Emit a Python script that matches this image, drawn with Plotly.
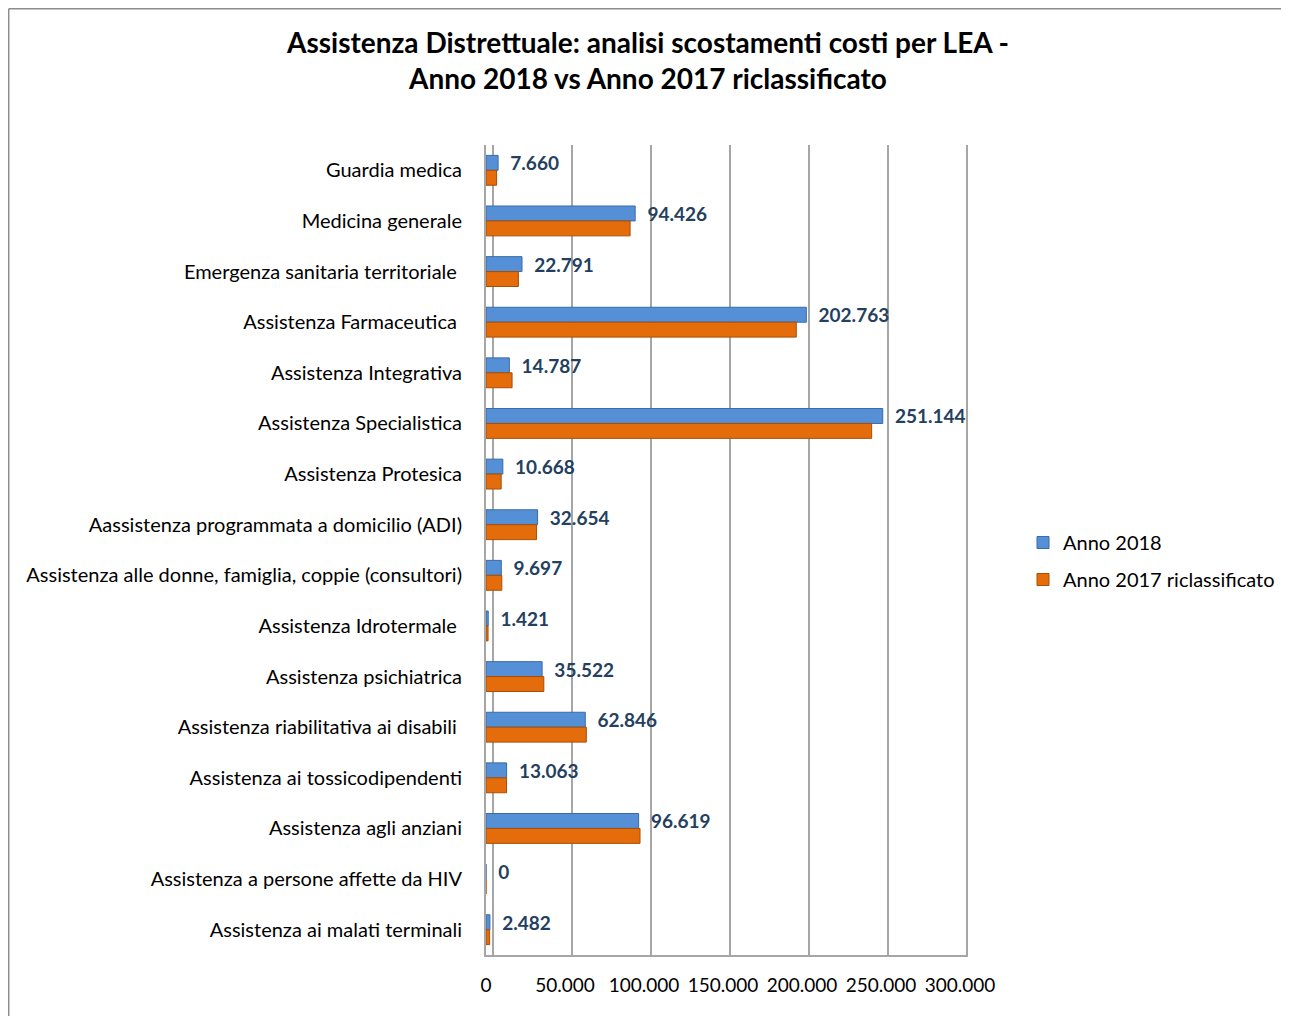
import plotly.graph_objects as go

categorie = [
    "Guardia medica",
    "Medicina generale",
    "Emergenza sanitaria territoriale ",
    "Assistenza Farmaceutica ",
    "Assistenza Integrativa",
    "Assistenza Specialistica",
    "Assistenza Protesica",
    "Aassistenza programmata a domicilio (ADI)",
    "Assistenza alle donne, famiglia, coppie (consultori)",
    "Assistenza Idrotermale ",
    "Assistenza psichiatrica",
    "Assistenza riabilitativa ai disabili ",
    "Assistenza ai tossicodipendenti",
    "Assistenza agli anziani",
    "Assistenza a persone affette da HIV",
    "Assistenza ai malati terminali",
]
anno_2018 = [7660, 94426, 22791, 202763, 14787, 251144, 10668, 32654,
             9697, 1421, 35522, 62846, 13063, 96619, 0, 2482]
anno_2017 = [6700, 91200, 20500, 196400, 16500, 244100, 9600, 32000,
             10000, 1300, 36600, 63500, 13000, 97500, 0, 2300]
tick_valori = [0, 50000, 100000, 150000, 200000, 250000, 300000]

FONT = "Lato"
blu = "#5590D6"
arancio = "#E46C0A"

# la pagina html ha un margine di 8px: il grafico e' un po' piu' piccolo
W, H = 1281, 1008
ml, mr, mt, mb = 478, 321, 137, 61
pw, ph = W - ml - mr, H - mt - mb

fig = go.Figure()
fig.add_trace(go.Bar(
    y=categorie, x=anno_2018, orientation="h", name="Anno 2018",
    marker=dict(color=blu, line=dict(color="#3A6BA8", width=1)),
    texttemplate="  %{x:,.0f}", textposition="outside", constraintext="none",
    textfont=dict(family=FONT, size=19, color="#243F60", weight="bold"),
    cliponaxis=False, legendgroup="a",
))
fig.add_trace(go.Bar(
    y=categorie, x=anno_2017, orientation="h", name="Anno 2017 riclassificato",
    marker=dict(color=arancio, line=dict(color="#A84E06", width=1)),
    legendgroup="b",
))
# griglia "sul fondo" (effetto 3D), leggermente spostata a destra
fig.add_trace(go.Scatter(x=[None], y=[None], xaxis="x2", showlegend=False))


def px_x(p):
    return (p - ml) / pw


def px_y(p):
    return (H - mb - p) / ph


fig.add_shape(type="line", xref="paper", yref="paper",
              x0=px_x(0.7), x1=px_x(0.7), y0=px_y(H), y1=px_y(0.7),
              line=dict(color="#8C8C8C", width=1.5))
fig.add_shape(type="line", xref="paper", yref="paper",
              x0=px_x(0.7), x1=px_x(W), y0=px_y(0.7), y1=px_y(0.7),
              line=dict(color="#8C8C8C", width=1.5))

fig.update_layout(
    width=W, height=H,
    margin=dict(l=ml, r=mr, t=mt, b=mb),
    paper_bgcolor="white", plot_bgcolor="white",
    separators=",.",
    barmode="group", bargap=0.41, bargroupgap=0,
    title=dict(
        text="Assistenza Distrettuale: analisi scostamenti costi per LEA -<br>Anno 2018 vs Anno 2017 riclassificato",
        x=640 / W, xref="container", xanchor="center",
        y=1 - 44.5 / H, yref="container", yanchor="middle",
        font=dict(family=FONT, size=28, color="black", weight="bold"),
    ),
    font=dict(family=FONT, size=20, color="black"),
    xaxis=dict(range=[0, 305100], tickvals=tick_valori, tickformat=",.0f",
               showgrid=False, zeroline=False, showline=True,
               linecolor="#A6A6A6", linewidth=2, ticks="",
               ticklabelstandoff=12,
               tickfont=dict(family=FONT, size=19, color="black")),
    xaxis2=dict(overlaying="x", range=[-4430, 300670], showgrid=True,
                gridcolor="#A6A6A6", gridwidth=2, showticklabels=False,
                zeroline=False, tickvals=tick_valori, side="bottom"),
    yaxis=dict(autorange="reversed", showline=True, linecolor="#A6A6A6",
               linewidth=2, ticks="", ticklabelstandoff=18,
               tickfont=dict(family=FONT, size=20, color="black")),
    legend=dict(x=1015 / W, xref="container", xanchor="left",
                y=1 - 553 / H, yref="container", yanchor="middle",
                font=dict(family=FONT, size=20, color="black"),
                tracegroupgap=8, itemwidth=30),
)

fig.write_html("out.html")
